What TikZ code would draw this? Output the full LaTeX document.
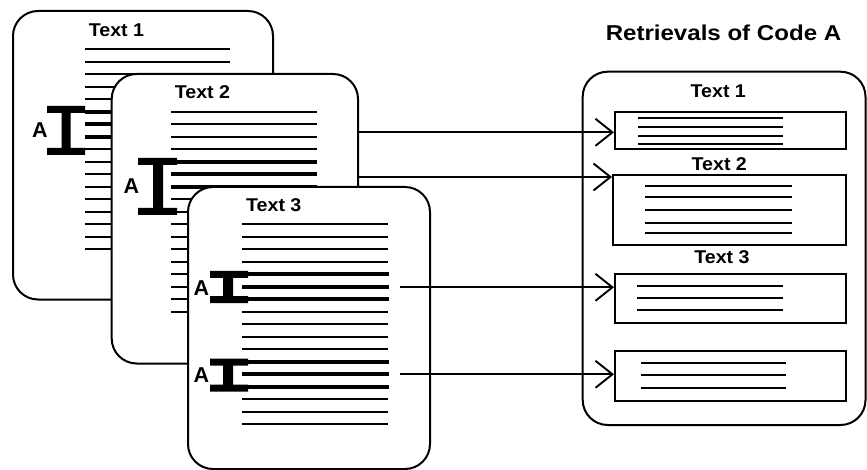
\documentclass[tikz,border=0pt]{standalone}
\usepackage{fontspec}
\setmainfont{Liberation Sans}
\newfontfamily\lblfont[FakeStretch=1.06]{Liberation Sans}
\newfontfamily\ttlfont[FakeStretch=1.12]{Liberation Sans}
\usetikzlibrary{arrows.meta}
\begin{document}
\begin{tikzpicture}[x=1pt,y=-1pt,
 card/.style={draw, fill=white, line width=2pt, rounded corners=25pt, inner sep=0pt, rectangle},
 rbox/.style={draw, fill=white, line width=2pt, inner sep=0pt, rectangle},
 thinl/.style={line width=1.8pt},
 thickl/.style={line width=4pt},
 boxl/.style={line width=1.7pt},
 lbl/.style={inner sep=0pt, font=\lblfont\bfseries\fontsize{18.5}{20}\selectfont},
 ttl/.style={inner sep=0pt, font=\ttlfont\bfseries\fontsize{21.5}{24}\selectfont},
 codea/.style={inner sep=0pt, font=\bfseries\fontsize{21.5}{23}\selectfont},
 arr/.style={line width=1.9pt, -{Straight Barb[length=17pt,width=27pt]}},
 ibeam/.style={fill=black}
]
\useasboundingbox (0,0) rectangle (867,470);

% ---------- card 1 ----------
\node[card, minimum width=260pt, minimum height=288.5pt] (c1) at (143,155.25) {};
\node[lbl] (t1) at (116.5,30.5) {Text 1};
\foreach \i in {0,1,2,3,4,8,9,10,11,12,13,14,15,16}
  \draw[thinl] (85,{49.3+12.5*\i}) -- (230,{49.3+12.5*\i});
\foreach \i in {5,6,7}
  \draw[thickl] (85,{49.3+12.5*\i}) -- (230,{49.3+12.5*\i});
\fill[ibeam] (47,106) rectangle (85,113) (61.5,112) rectangle (70.5,149) (47,148) rectangle (85,155);
\node[codea] (a1) at (40,130) {A};

% ---------- card 2 ----------
\node[card, minimum width=246.3pt, minimum height=289.5pt] (c2) at (234.85,218.75) {};
\node[lbl] (t2) at (202.5,92) {Text 2};
\foreach \i in {0,1,2,3,7,8,9,10,11,12,13,14,15,16}
  \draw[thinl] (171,{111.7+12.5*\i}) -- (317,{111.7+12.5*\i});
\foreach \i in {4,5,6}
  \draw[thickl] (171,{111.7+12.5*\i}) -- (317,{111.7+12.5*\i});
\fill[ibeam] (138,158) rectangle (177,165) (153,164) rectangle (163,209) (138,208) rectangle (177,215);
\node[codea] (a2) at (131.5,186) {A};

% ---------- card 3 ----------
\node[card, minimum width=242pt, minimum height=282pt] (c3) at (309,328) {};
\node[lbl] (t3) at (273.8,205) {Text 3};
\foreach \i in {0,1,2,3,7,8,9,10,14,15,16}
  \draw[thinl] (242,{224.3+12.5*\i}) -- (388,{224.3+12.5*\i});
\foreach \i in {4,5,6,11,12,13}
  \draw[thickl] (242,{224.3+12.5*\i}) -- (389,{224.3+12.5*\i});
\fill[ibeam] (210,271) rectangle (248,278) (223,277) rectangle (233,297) (210,296) rectangle (248,303);
\fill[ibeam] (210,358.5) rectangle (248,365.5) (223,364.5) rectangle (233,385.5) (210,384.5) rectangle (248,391.5);
\node[codea] (a3) at (201.5,288) {A};
\node[codea] (a4) at (201.5,375) {A};

% ---------- retrievals ----------
\node[ttl] (title) at (723.5,32.5) {Retrievals of Code A};
\node[card, minimum width=282.8pt, minimum height=353.3pt] (panel) at (724.1,248.35) {};
\node[lbl] (r1) at (718.3,91.7) {Text 1};
\node[lbl] (r2) at (719.3,163.8) {Text 2};
\node[lbl] (r3) at (722,257.3) {Text 3};

\node[rbox, minimum width=231pt, minimum height=37.6pt] (b1) at (730.5,130.5) {};
\node[rbox, minimum width=233pt, minimum height=70pt] (b2) at (729.5,210) {};
\node[rbox, minimum width=231pt, minimum height=49.3pt] (b3) at (730.5,298.65) {};
\node[rbox, minimum width=231pt, minimum height=50pt] (b4) at (730.5,376) {};

\foreach \y in {118.3,126.7,135.7,144}
  \draw[boxl] (638,\y) -- (783,\y);
\foreach \y in {186,196.7,210,222.7,233.3}
  \draw[boxl] (645,\y) -- (792,\y);
\foreach \y in {286,297.7,310}
  \draw[boxl] (637,\y) -- (783,\y);
\foreach \y in {363.3,375,388.3}
  \draw[boxl] (641,\y) -- (786,\y);

% ---------- connectors ----------
\coordinate (s1) at (358,132.3);
\coordinate (s2) at (358,177);
\coordinate (s3) at (400,287.3);
\coordinate (s4) at (400,374.3);
\draw[arr] (s1) -- (b1.west |- s1);
\draw[arr] (s2) -- (b2.west |- s2);
\draw[arr] (s3) -- (b3.west |- s3);
\draw[arr] (s4) -- (b4.west |- s4);
\end{tikzpicture}
\end{document}
